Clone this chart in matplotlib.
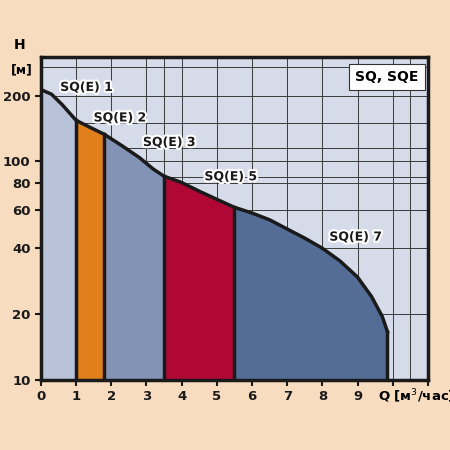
import numpy as np
import matplotlib.pyplot as plt
import matplotlib.patheffects as pe

# curve
flow = [0, 0.3, 0.6, 1.0, 1.4, 1.8, 2.3, 2.8, 3.2, 3.5, 4.0, 4.5, 5.0, 5.5,
        6.0, 6.5, 7.0, 7.5, 8.0, 8.5, 9.0, 9.4, 9.7, 9.85]
head = [213, 203, 182, 154, 143, 133, 118, 104, 92, 85.5, 80, 73, 67, 61.6,
        58, 54, 49, 44.5, 40, 35, 29.5, 24, 19.5, 16.6]
bounds = [0, 1.0, 1.8, 3.5, 5.5, 9.85]
colors = ['#b8c2d8', '#e07f1c', '#8393b5', '#b00735', '#536d96']
models = ['SQ(E) 1', 'SQ(E) 2', 'SQ(E) 3', 'SQ(E) 5', 'SQ(E) 7']
label_pos = [(1.3, 218), (2.25, 158), (3.65, 122), (5.4, 85), (8.95, 45)]
yticks = [10, 20, 40, 60, 80, 100, 200]

flow = np.array(flow)
head = np.array(head)

fig = plt.figure(figsize=(4.5, 4.5), dpi=100)
fig.patch.set_facecolor('#f8dcc0')
ax = fig.add_axes([0.091, 0.156, 0.86, 0.717])
ax.set_facecolor('#d6dbea')
ax.set_yscale('log')
ax.set_xlim(0, 11)
ax.set_ylim(10, 300)

for x in list(range(1, 11)) + [3.5, 10.5]:
    ax.axvline(x, color='#3a3a3a', lw=0.7, zorder=0)
for y in [20, 40, 60, 80, 85, 100, 115, 150, 200, 270]:
    ax.axhline(y, color='#3a3a3a', lw=0.7, zorder=0)

for (a, b), c in zip(zip(bounds[:-1], bounds[1:]), colors):
    m = (flow >= a) & (flow <= b)
    ax.fill_between(flow[m], 10, head[m], color=c, zorder=1)
for b in bounds[1:]:
    h = head[np.argmin(abs(flow - b))]
    ax.plot([b, b], [10, h], color='#1a1a1a', lw=2.5, zorder=2)
ax.plot(flow, head, color='#1a1a1a', lw=2.5, zorder=3)

halo = [pe.withStroke(linewidth=3, foreground='white')]
for name, (x, y) in zip(models, label_pos):
    ax.text(x, y, name, ha='center', va='center', fontsize=9, fontweight='bold',
            color='#1a1a1a', path_effects=halo, zorder=4)

ax.text(0.975, 0.96, 'SQ, SQE', transform=ax.transAxes, ha='right', va='top',
        fontsize=10, fontweight='bold', zorder=5,
        bbox=dict(boxstyle='square,pad=0.45', fc='white', ec='#333333', lw=0.8))

ax.set_xticks(range(12))
ax.set_xticklabels([str(i) for i in range(10)] + ['', ''])
ax.set_yticks(yticks)
ax.set_yticklabels([str(v) for v in yticks])
ax.minorticks_off()
ax.tick_params(direction='out', width=1.5, length=4, labelsize=9.5, colors='#1a1a1a')
for lab in ax.get_xticklabels() + ax.get_yticklabels():
    lab.set_fontweight('bold')
for s in ax.spines.values():
    s.set_linewidth(2.5)
    s.set_color('#1a1a1a')

fig.text(20 / 450, 1 - 45 / 450, 'H', ha='center', va='center', fontsize=10, fontweight='bold')
fig.text(22 / 450, 1 - 70 / 450, '[м]', ha='center', va='center', fontsize=9, fontweight='bold')
fig.text(378 / 450, 1 - 396 / 450, 'Q [м$^3$/час]', ha='left', va='center',
         fontsize=9.5, fontweight='bold')

fig.savefig('out.png', dpi=100, facecolor=fig.get_facecolor())
